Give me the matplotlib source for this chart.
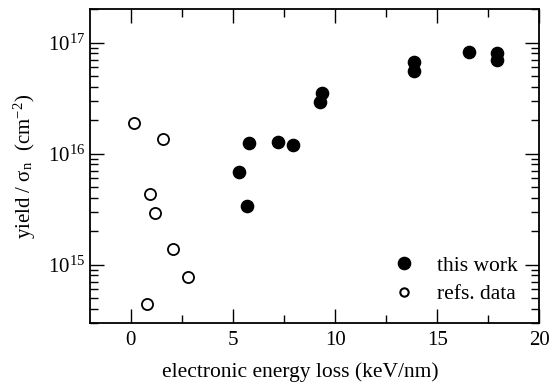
import matplotlib
matplotlib.use("Agg")
import matplotlib.pyplot as plt
from matplotlib.ticker import LogLocator, MultipleLocator, NullFormatter

plt.rcParams["font.family"] = ["Liberation Serif", "DejaVu Serif"]
plt.rcParams["mathtext.fontset"] = "stix"

# this work (filled circles)
work_x = [5.29, 5.70, 5.80, 7.21, 7.95, 9.26, 9.38, 13.88, 13.88, 16.58, 17.95, 17.95]
work_y = [6.8e15, 3.4e15, 1.24e16, 1.28e16, 1.19e16, 2.9e16, 3.5e16, 6.7e16, 5.5e16, 8.2e16, 8.1e16, 7.0e16]

# refs. data (open circles)
refs_x = [0.16, 1.56, 0.93, 1.18, 2.08, 2.79, 0.80]
refs_y = [1.88e16, 1.35e16, 4.3e15, 2.9e15, 1.37e15, 7.8e14, 4.4e14]

fig = plt.figure(figsize=(5.53, 3.86), dpi=100)
ax = fig.add_axes([0.1627, 0.164, 0.8125, 0.812])

ax.plot(work_x, work_y, "o", color="black", markersize=8.8, label="this work")
ax.plot(refs_x, refs_y, "o", markerfacecolor="white", markeredgecolor="black",
        markeredgewidth=1.3, markersize=8, label="refs. data")

ax.set_yscale("log")
ax.set_xlim(-2, 20)
ax.set_ylim(3e14, 2e17)

ax.xaxis.set_major_locator(MultipleLocator(5))
ax.xaxis.set_minor_locator(MultipleLocator(2.5))
ax.yaxis.set_major_locator(LogLocator(base=10))
ax.yaxis.set_minor_locator(LogLocator(base=10, subs=range(2, 10)))
ax.yaxis.set_minor_formatter(NullFormatter())

ax.tick_params(which="both", direction="in", top=True, right=True, labelsize=15, width=1)
ax.tick_params(which="major", length=10)
ax.tick_params(which="minor", length=6)
ax.tick_params(axis="x", pad=6)
for s in ax.spines.values():
    s.set_linewidth(1.3)

ax.set_xlabel("electronic energy loss (keV/nm)", fontsize=15.5)
ax.xaxis.set_label_coords(0.468, -0.125)
ax.set_ylabel("yield / σ$_\\mathregular{n}$  (cm$^{\\mathregular{-2}}$)", fontsize=15, labelpad=7)

leg = ax.legend(loc="lower right", frameon=False, fontsize=15.5, handletextpad=0.5,
                borderaxespad=0.3, labelspacing=0.4, bbox_to_anchor=(0.985, 0.01))
leg.legend_handles[1].set_markersize(6)
leg.legend_handles[1].set_markeredgewidth(1.5)

fig.savefig("out.png", dpi=100)
